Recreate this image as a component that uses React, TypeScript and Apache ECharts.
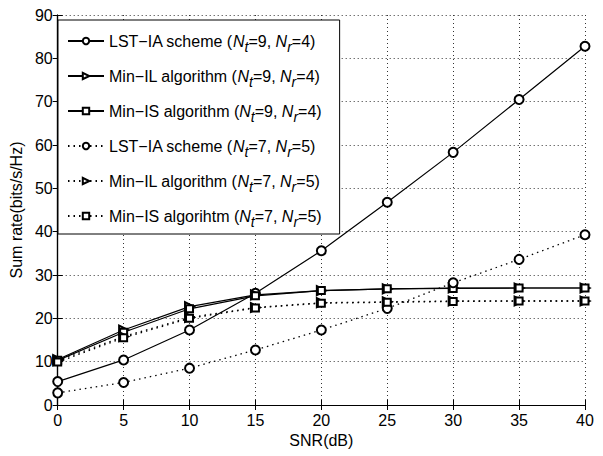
import React, { useEffect, useRef } from "react";
import * as echarts from "echarts";

const snr = [0, 5, 10, 15, 20, 25, 30, 35, 40];
const lstIa94 = [5.4, 10.4, 17.3, 25.8, 35.6, 46.8, 58.3, 70.5, 82.8];
const minIl94 = [10.5, 17.3, 22.7, 25.4, 26.4, 26.8, 27.0, 27.0, 27.0];
const minIs94 = [10.3, 16.8, 22.2, 25.2, 26.4, 26.8, 26.9, 27.0, 27.0];
const lstIa75 = [2.8, 5.2, 8.5, 12.7, 17.3, 22.3, 28.2, 33.6, 39.3];
const minIl75 = [10.2, 15.8, 20.2, 22.5, 23.6, 23.8, 24.0, 24.0, 24.0];
const minIs75 = [9.9, 15.5, 20.0, 22.4, 23.5, 23.7, 23.9, 24.0, 24.0];
const yTicks = [0, 10, 20, 30, 40, 50, 60, 70, 80, 90];

const seriesDefs = [
  { name: "LST−IA scheme (Nt=9, Nr=4)", label: "LST−IA scheme (", nt: "9", nr: "4", data: lstIa94, symbol: "emptyCircle", size: 9, rotate: 0, dotted: false },
  { name: "Min−IL algorithm (Nt=9, Nr=4)", label: "Min−IL algorithm (", nt: "9", nr: "4", data: minIl94, symbol: "emptyTriangle", size: 9, rotate: -90, dotted: false },
  { name: "Min−IS algorithm (Nt=9, Nr=4)", label: "Min−IS algorithm (", nt: "9", nr: "4", data: minIs94, symbol: "emptyRect", size: 7, rotate: 0, dotted: false },
  { name: "LST−IA scheme (Nt=7, Nr=5)", label: "LST−IA scheme (", nt: "7", nr: "5", data: lstIa75, symbol: "emptyCircle", size: 9, rotate: 0, dotted: true },
  { name: "Min−IL algorithm (Nt=7, Nr=5)", label: "Min−IL algorithm (", nt: "7", nr: "5", data: minIl75, symbol: "emptyTriangle", size: 9, rotate: -90, dotted: true },
  { name: "Min−IS algorihtm (Nt=7, Nr=5)", label: "Min−IS algorihtm (", nt: "7", nr: "5", data: minIs75, symbol: "emptyRect", size: 7, rotate: 0, dotted: true },
];

const FONT = "Liberation Sans";

export default function App() {
  const ref = useRef<HTMLDivElement>(null);
  useEffect(() => {
    if (!ref.current) return;
    const chart = echarts.init(ref.current, undefined, { renderer: "svg" });
    const labelMap: Record<string, string> = {};
    seriesDefs.forEach((s) => {
      labelMap[s.name] = `${s.label}{i|N}{s|t}=${s.nt}, {i|N}{s|r}=${s.nr})`;
    });
    const gridLine = { show: true, lineStyle: { color: "#333", type: [1, 3] as any, width: 1 } };
    chart.setOption({
      animation: false,
      backgroundColor: "#fff",
      grid: { left: 53, right: 18, top: 15, bottom: 51 },
      legend: {
        orient: "vertical",
        left: 58,
        top: 20,
        backgroundColor: "#fff",
        borderColor: "#000",
        borderWidth: 1,
        borderRadius: 0,
        padding: [13, 18, 5, 9],
        itemWidth: 36,
        itemHeight: 8,
        itemGap: 14,
        data: seriesDefs.map((s) => s.name),
        formatter: (n: string) => labelMap[n] || n,
        textStyle: {
          fontFamily: FONT,
          fontSize: 16,
          color: "#000",
          rich: {
            i: { fontFamily: FONT, fontSize: 16, fontStyle: "italic", color: "#000" },
            s: { fontFamily: FONT, fontSize: 14, fontStyle: "italic", color: "#000", padding: [12, 0, 0, 0] },
          },
        },
      },
      xAxis: [
        {
          type: "value",
          min: 0,
          max: 40,
          interval: 5,
          position: "bottom",
          name: "SNR(dB)",
          nameLocation: "middle",
          nameGap: 26,
          nameTextStyle: { fontFamily: FONT, fontSize: 16, color: "#000" },
          axisLine: { lineStyle: { color: "#000", width: 1.2 } },
          axisTick: { inside: true, length: 5, lineStyle: { color: "#000" } },
          axisLabel: { fontFamily: FONT, fontSize: 16, color: "#000", margin: 7 },
          splitLine: gridLine,
        },
        {
          type: "value",
          min: 0,
          max: 40,
          interval: 5,
          position: "top",
          axisLine: { show: true, lineStyle: { color: "#000", width: 1.2 } },
          axisTick: { show: true, inside: true, length: 5, lineStyle: { color: "#000" } },
          axisLabel: { show: false },
          splitLine: { show: false },
        },
      ],
      yAxis: [
        {
          type: "value",
          min: yTicks[0],
          max: yTicks[yTicks.length - 1],
          interval: 10,
          position: "left",
          name: "Sum rate(bits/s/Hz)",
          nameLocation: "middle",
          nameGap: 23,
          nameTextStyle: { fontFamily: FONT, fontSize: 16, color: "#000" },
          axisLine: { show: true, lineStyle: { color: "#000", width: 1.2 } },
          axisTick: { show: true, inside: true, length: 5, lineStyle: { color: "#000" } },
          axisLabel: { fontFamily: FONT, fontSize: 16, color: "#000", margin: 5 },
          splitLine: gridLine,
        },
        {
          type: "value",
          min: 0,
          max: 90,
          interval: 10,
          position: "right",
          axisLine: { show: true, lineStyle: { color: "#000", width: 1.2 } },
          axisTick: { show: true, inside: true, length: 5, lineStyle: { color: "#000" } },
          axisLabel: { show: false },
          splitLine: { show: false },
        },
      ],
      series: seriesDefs.map((s) => ({
        name: s.name,
        type: "line",
        xAxisIndex: 0,
        yAxisIndex: 0,
        data: snr.map((x, i) => [x, s.data[i]]),
        symbol: s.symbol,
        symbolSize: s.size,
        symbolRotate: s.rotate,
        showAllSymbol: true,
        color: "#000",
        itemStyle: { color: "#000", borderColor: "#000", borderWidth: 1.1 },
        lineStyle: { color: "#000", width: s.dotted ? 1.3 : 1.2, type: s.dotted ? [1.5, 4] : "solid" },
      })),
    });
    return () => chart.dispose();
  }, []);
  return <div ref={ref} style={{ width: 603, height: 456, marginLeft: -8, marginTop: -8 }} />;
}
